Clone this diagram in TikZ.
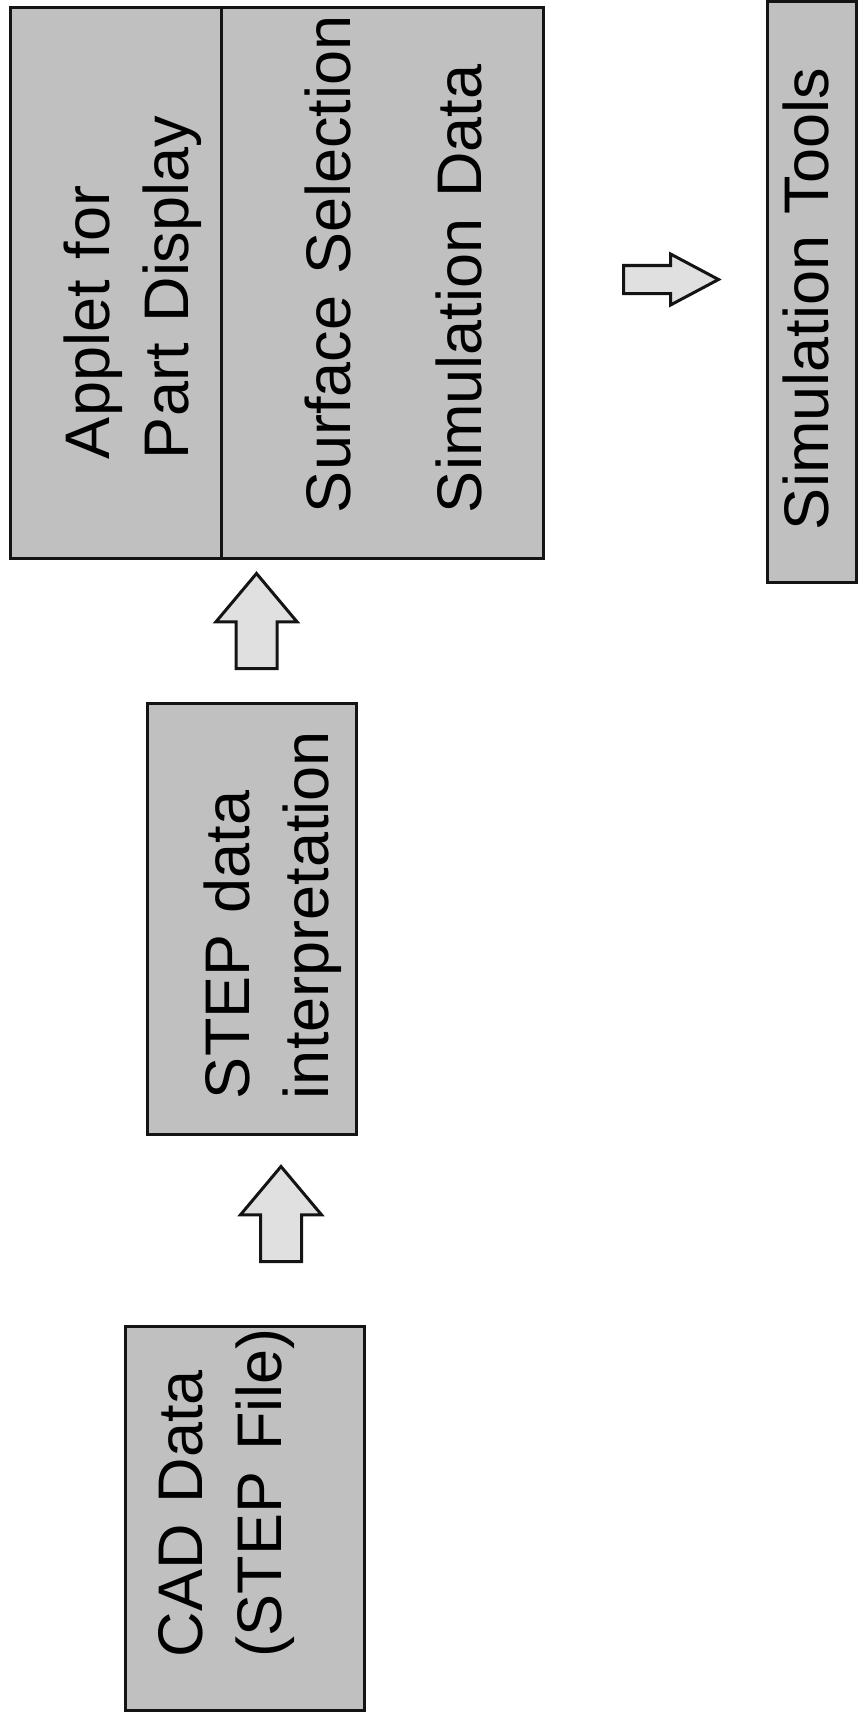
\documentclass[tikz,border=0pt]{standalone}
\usepackage{fontspec}
\setmainfont{Liberation Sans}
\usepackage{tikz}
\usetikzlibrary{shapes.arrows}
\usepackage{xcolor}
\definecolor{ink}{RGB}{20,20,20}
\definecolor{scan}{RGB}{192,192,192}
\definecolor{scanlt}{RGB}{224,224,224}
\tikzset{
  blk/.style={draw=ink,line width=1.5pt,fill=scan,rotate=90,inner sep=0pt,
    align=left,text height=23pt,font=\fontsize{31.5}{39.5}\selectfont},
  barrow/.style={single arrow,draw=ink,line width=1.5pt,fill=scanlt,anchor=tail},
  uparrow/.style={barrow,shape border rotate=90,minimum height=47.5pt,
    inner sep=9.5pt,single arrow head extend=10pt,single arrow tip angle=80},
  rtarrow/.style={barrow,minimum height=47.5pt,inner sep=6.25pt,
    single arrow head extend=5.75pt,single arrow tip angle=56},
}

\begin{document}
\begin{tikzpicture}[x=0.5pt,y=-0.5pt]
  \path[use as bounding box,fill=white] (0,0) rectangle (857,1712);
  \node[blk,minimum width=275pt,minimum height=105.5pt,text width=176pt,
    text depth=29.5pt] (app) at (115.5,283) {Applet for\\Part Display};
  \node[blk,minimum width=275pt,minimum height=161pt,text width=230pt,
    text depth=55pt] (sel) at (382,283)
    {\mbox{Surface Selection}\\[26pt]\mbox{Simulation Data}};
  \node[blk,minimum width=290pt,minimum height=44.5pt,text width=238pt,
    text depth=6.5pt] (sim) at (811.5,292) {\mbox{Simulation Tools}};
  \node[blk,minimum width=215.5pt,minimum height=104.5pt,text width=180.5pt,
    text depth=25.5pt] (stp) at (251.5,918.5) {STEP data\\\mbox{interpretation}};
  \node[blk,minimum width=192pt,minimum height=119.5pt,text width=139pt,
    text depth=65.5pt] (cad) at (244.5,1518) {\mbox{CAD Data}\\\mbox{(STEP File)}};
  \node[uparrow] (a1) at (256.5,670) {};
  \node[uparrow] (a2) at (281,1263) {};
  \node[rtarrow] (a3) at (622,279.5) {};
\end{tikzpicture}
\end{document}
